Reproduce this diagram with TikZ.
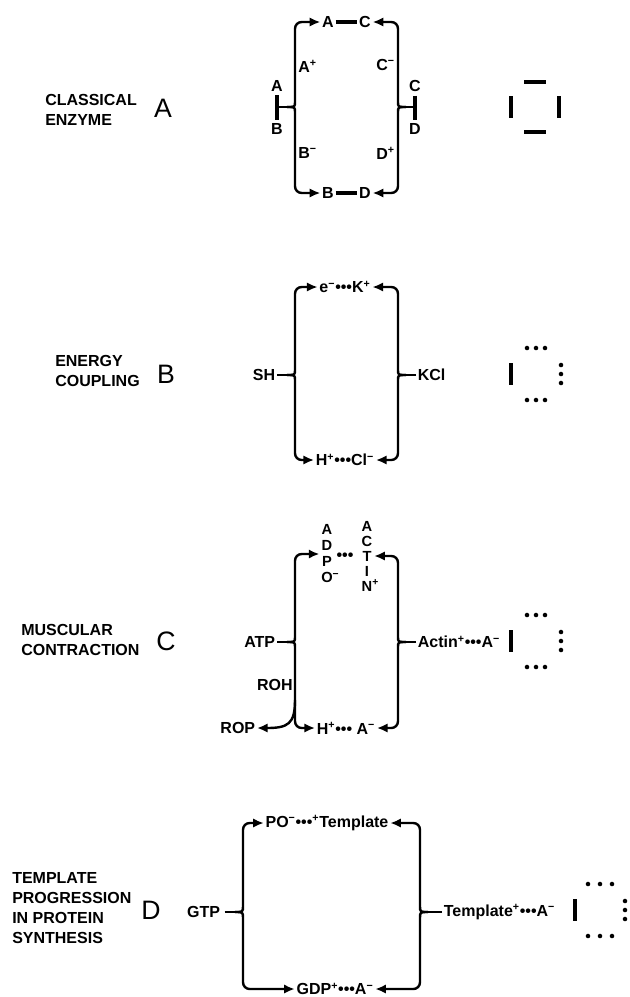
\documentclass[tikz,border=0pt]{standalone}
\usepackage{fontspec}
\setmainfont{Liberation Sans}
\usetikzlibrary{arrows.meta,positioning,calc}

\begin{document}
\begin{tikzpicture}[
    x=0.75pt, y=-0.75pt,
    lbl/.style={font=\bfseries\fontsize{12}{15}\selectfont, align=left, anchor=west, inner sep=0pt},
    tag/.style={font=\fontsize{20}{20}\selectfont, inner sep=0pt},
    sp/.style={font=\bfseries\fontsize{12}{13}\selectfont, inner sep=1.2pt},
    chg/.style={font=\bfseries\fontsize{12}{13}\selectfont, inner sep=0pt},
    stack/.style={sp, align=center, font=\bfseries\fontsize{11}{12}\selectfont},
    lnk/.style={line width=1.8pt, rounded corners=5pt},
    arr/.style={lnk, -{Latex[length=8pt,width=7pt]}},
    bond/.style={line width=3.2pt}
]
\useasboundingbox (0,0) rectangle (630,997);

% A: classical enzyme
\node[lbl] (nA) at (45,110) {CLASSICAL\\ENZYME};
\node[tag] (kA) at (163,108) {A};
\node[sp] (aT1) at (328,22) {A};
\node[sp] (aT2) at (365,22) {C};
\node[sp] (aB1) at (328,193) {B};
\node[sp] (aB2) at (365,193) {D};
\node[sp] (aL1) at (277,86) {A};
\node[sp] (aL2) at (277,129) {B};
\node[sp] (aR1) at (415,86) {C};
\node[sp] (aR2) at (415,129) {D};
\node[chg, anchor=west] (aP1) at (298,66) {A\textsuperscript{+}};
\node[chg, anchor=west] (aP2) at (298,153) {B\textsuperscript{−}};
\node[chg, anchor=east] (aP3) at (395,65) {C\textsuperscript{−}};
\node[chg, anchor=east] (aP4) at (395,153) {D\textsuperscript{+}};
\coordinate (aJL) at (287,107);
\coordinate (aJR) at (406,107);

\draw[bond] (aT1) -- (aT2);
\draw[bond] (aB1) -- (aB2);
\draw[bond, shorten <=1.5pt, shorten >=1.5pt] (aL1) -- (aL2);
\draw[bond, shorten <=1.5pt, shorten >=1.5pt] (aR1) -- (aR2);
\draw[lnk] (aL1 |- aJL) -- (aJL);
\draw[lnk] (aR1 |- aJR) -- (aJR);
\draw[arr] (aJL) .. controls (295,107) .. (295,95) |- (aT1);
\draw[arr] (aJL) .. controls (295,107) .. (295,119) |- (aB1);
\draw[arr] (aJR) .. controls (398,107) .. (398,95) |- (aT2);
\draw[arr] (aJR) .. controls (398,107) .. (398,119) |- (aB2);

\draw[bond] (524,82) -- (546,82);
\draw[bond] (524,132) -- (546,132);
\draw[bond] (511,96) -- (511,118);
\draw[bond] (559,96) -- (559,118);

% B: energy coupling
\node[lbl] (nB) at (55,371) {ENERGY\\COUPLING};
\node[tag] (kB) at (166,374) {B};
\node[sp] (bT) at (345,287) {e\textsuperscript{−}•••K\textsuperscript{+}};
\node[sp] (bB) at (345,460) {H\textsuperscript{+}•••Cl\textsuperscript{−}};
\node[sp, anchor=east] (bL) at (277,375) {SH};
\node[sp, anchor=west] (bR) at (416,375) {KCl};
\coordinate (bJL) at (287,375);
\coordinate (bJR) at (406,375);

\draw[lnk] (bL) -- (bJL);
\draw[lnk] (bR) -- (bJR);
\draw[arr] (bJL) .. controls (295,375) .. (295,363) |- (bT);
\draw[arr] (bJL) .. controls (295,375) .. (295,387) |- (bB);
\draw[arr] (bJR) .. controls (398,375) .. (398,363) |- (bT);
\draw[arr] (bJR) .. controls (398,375) .. (398,387) |- (bB);

% C: muscular contraction
\node[lbl] (nC) at (21,640) {MUSCULAR\\CONTRACTION};
\node[tag] (kC) at (166,641) {C};
\node[stack] (cT1) at (327,554) {A\\D\\P\\O\rlap{\textsuperscript{−}}};
\node[sp] (cT2) at (345,557) {•••};
\node[stack, font=\bfseries\fontsize{11}{11.25}\selectfont] (cT3) at (367,556) {A\\C\\T\\I\\N\rlap{\textsuperscript{+}}};
\node[sp] (cB) at (346,728) {H\textsuperscript{+}••• A\textsuperscript{−}};
\node[sp, anchor=east] (cL) at (277,642) {ATP};
\node[chg, anchor=east] (cOH) at (293,685) {ROH};
\node[sp, anchor=east] (cOP) at (257,728) {ROP};
\node[sp, anchor=west] (cR) at (416,642) {Actin\textsuperscript{+}•••A\textsuperscript{−}};
\coordinate (cJL) at (287,642);
\coordinate (cJR) at (406,642);
\coordinate (cSp) at (295,700);

\draw[lnk] (cL) -- (cJL);
\draw[lnk] (cR) -- (cJR);
\draw[arr] (cJL) .. controls (295,642) .. (295,630) |- (cT1);
\draw[arr] (cJL) .. controls (295,642) .. (295,654) |- (cB);
\draw[arr] (cSp) .. controls (295,724) and (288,728) .. (cOP);
\draw[arr] (cJR) .. controls (398,642) .. (398,630) |- (cT3);
\draw[arr] (cJR) .. controls (398,642) .. (398,654) |- (cB);

% D: template progression
\node[lbl] (nD) at (12,908) {TEMPLATE\\PROGRESSION\\IN PROTEIN\\SYNTHESIS};
\node[tag] (kD) at (151,910) {D};
\node[sp] (dT) at (327,823) {PO\textsuperscript{−}•••\textsuperscript{+}Template};
\node[sp] (dB) at (335,989) {GDP\textsuperscript{+}•••A\textsuperscript{−}};
\node[sp, anchor=east] (dL) at (222,912) {GTP};
\node[sp, anchor=west] (dR) at (442,912) {Template\textsuperscript{+}•••A\textsuperscript{−}};
\coordinate (dJL) at (235,912);
\coordinate (dJR) at (428,912);

\draw[lnk, shorten <=2pt] (dL) -- (dJL);
\draw[lnk] (dR) -- (dJR);
\draw[arr] (dJL) .. controls (243,912) .. (243,899) |- (dT);
\draw[arr] (dJL) .. controls (243,912) .. (243,925) |- (dB);
\draw[arr] (dJR) .. controls (420,912) .. (420,899) |- (dT);
\draw[arr] (dJR) .. controls (420,912) .. (420,925) |- (dB);

% bond symbols B, C, D
\foreach \cx/\cy/\w in {536/374/9, 536/641/9, 600/910/12}{
  \draw[bond] ({\cx-25},{\cy-11}) -- ({\cx-25},{\cy+11});
  \foreach \d in {-1,0,1}{
    \fill ({\cx+\d*\w},{\cy-26}) circle (1.7pt);
    \fill ({\cx+\d*\w},{\cy+26}) circle (1.7pt);
    \fill ({\cx+25},{\cy+\d*9}) circle (1.7pt);
  }
}
\end{tikzpicture}
\end{document}
